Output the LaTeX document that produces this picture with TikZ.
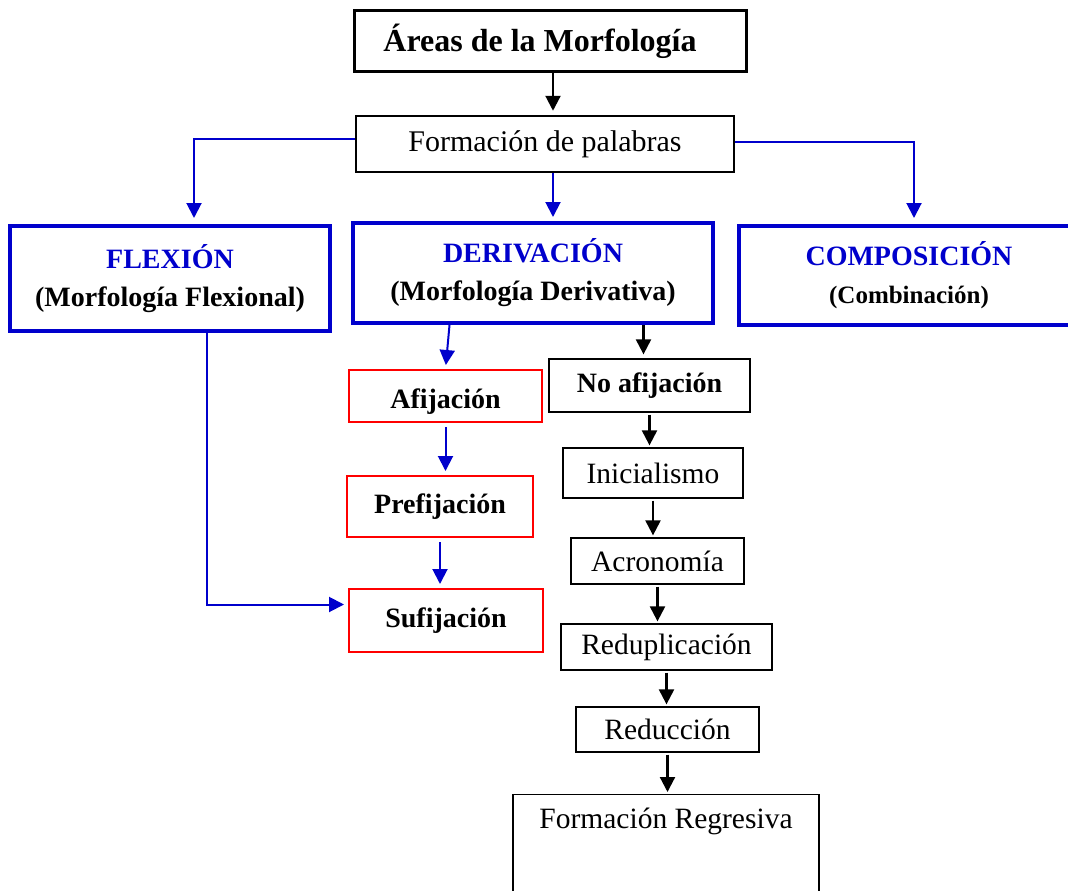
\documentclass[tikz,border=0pt]{standalone}
\usepackage{fontspec}
\setmainfont{Liberation Serif}
\usetikzlibrary{arrows.meta}
\definecolor{areablue}{RGB}{0,0,204}
\definecolor{areared}{RGB}{255,0,0}

\begin{document}
\begin{tikzpicture}[x=1pt,y=-1pt,
	every node/.style={inner sep=0pt,align=center},
	titlebox/.style={draw,line width=3pt,font=\fontsize{32}{38}\selectfont\bfseries},
	formbox/.style={draw,line width=2.5pt,font=\fontsize{30}{36}\selectfont},
	areabox/.style={draw=areablue,line width=4pt,font=\fontsize{28}{38}\selectfont\bfseries},
	afijbox/.style={draw=areared,line width=2pt,font=\fontsize{28}{34}\selectfont\bfseries},
	plainbox/.style={draw,line width=1.3pt,font=\fontsize{29.5}{34}\selectfont},
	tip/.style={-{Triangle[length=15pt,width=15pt]},shorten >=4pt},
	blueline/.style={tip,areablue,line width=2pt},
	blackline/.style={tip,black,line width=2.2pt}]
	\useasboundingbox (0,0) rectangle (1068,891);
	\clip (0,0) rectangle (1068,891);

	% top
	\node[titlebox,minimum width=392pt,minimum height=61pt] (area) at (550,41.5) {Áreas de la Morfología\hspace*{20pt}};
	\node[formbox,minimum width=378pt,minimum height=56pt] (form) at (545,144) {Formación de palabras};

	% three areas
	\node[areabox,minimum width=320pt,minimum height=105pt] (flex) at (170,278.5)
		{\textcolor{areablue}{FLEXIÓN}\\(Morfología Flexional)};
	\node[areabox,minimum width=360pt,minimum height=100pt] (deriv) at (533,273)
		{\textcolor{areablue}{DERIVACIÓN}\\(Morfología Derivativa)};
	\node[areabox,minimum width=340pt,minimum height=99pt] (comp) at (909,275.5)
		{\textcolor{areablue}{COMPOSICIÓN}\\{\fontsize{25}{38}\selectfont(Combinación)}};

	% afijacion
	\node[afijbox,minimum width=193pt,minimum height=52pt,text height=28pt,text depth=4pt] (afij) at (445.5,396) {Afijación};
	\node[afijbox,minimum width=186pt,minimum height=61pt] (pref) at (440,506.5) {Prefijación};
	\node[afijbox,minimum width=194pt,minimum height=63pt] (sufi) at (446,620.5) {Sufijación};

	% no afijacion
	\node[plainbox,font=\fontsize{28}{34}\selectfont\bfseries,minimum width=201pt,minimum height=53pt] (noaf) at (649.5,385.5) {No afijación};
	\node[plainbox,minimum width=180pt,minimum height=50pt] (inic) at (653,473) {Inicialismo};
	\node[plainbox,minimum width=173pt,minimum height=46pt] (acro) at (657.5,561) {Acronomía};
	\node[plainbox,minimum width=211pt,minimum height=46pt] (redu) at (666.5,647) {Reduplicación};
	\node[plainbox,minimum width=183pt,minimum height=45pt] (reduc) at (667.5,729.5) {Reducción};
	\node[plainbox,anchor=north,minimum width=306pt,inner ysep=12pt,text height=22pt,text depth=75pt] (freg) at (666,794) {Formación Regresiva};

	% connectors
	\draw[blackline] ([xshift=3pt]area.south) -- ([xshift=3pt]area.south |- form.north);
	\draw[blueline,shorten >=6pt] ([yshift=5pt]form.west) -| ([xshift=24pt]flex.north);
	\draw[blueline] ([xshift=8pt]form.south) -- ([xshift=8pt]form.south |- deriv.north);
	\draw[blueline,shorten >=6pt] ([yshift=2pt]form.east) -| ([xshift=5pt]comp.north);
	\draw[blueline] ([xshift=37pt]flex.south) |- ([yshift=16pt]sufi.west);
	\draw[blueline] ([xshift=4pt]afij.north |- deriv.south) -- (afij.north);
	\draw[blueline] ([yshift=-4pt]afij.south) -- (afij.south |- pref.north);
	\draw[blueline] ([yshift=-4pt]pref.south) -- (pref.south |- sufi.north);
	\draw[blackline] ([xshift=-6pt]noaf.north |- deriv.south) -- ([xshift=-6pt]noaf.north);
	\foreach \a/\b in {noaf/inic,inic/acro,acro/redu,redu/reduc,reduc/freg}
		\draw[blackline,shorten <=2pt,shorten >=2pt] (\a.south) -- (\a.south |- \b.north);
\end{tikzpicture}
\end{document}
